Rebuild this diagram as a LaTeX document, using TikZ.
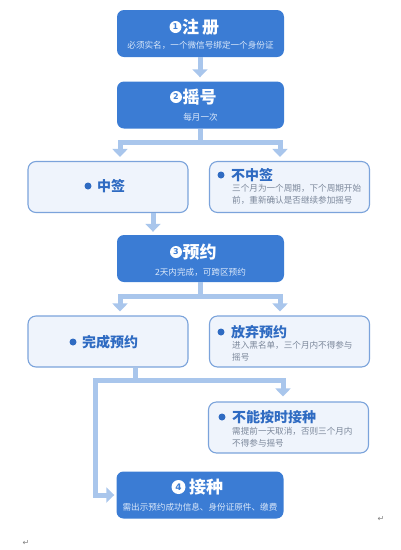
\documentclass[tikz,border=0pt]{standalone}
\usepackage{fontspec}
\newfontfamily\cjk{Noto Sans CJK SC}
\newfontfamily\dejavu{DejaVu Sans}
\usetikzlibrary{arrows.meta}
\definecolor{dblue}{HTML}{3B7CD4}
\definecolor{lfill}{HTML}{EFF4FC}
\definecolor{lborder}{HTML}{7BA3DB}
\definecolor{ltitle}{HTML}{2F6BC2}
\definecolor{lbody}{HTML}{7B879A}
\definecolor{arrc}{HTML}{A9C6EC}
\definecolor{subc}{HTML}{DCE9FA}
\tikzset{
  dbox/.style={draw=none, fill=dblue, rounded corners=7pt, minimum width=167pt, minimum height=47pt, inner sep=0pt},
  lbox/.style={draw=lborder, line width=1.1pt, fill=lfill, rounded corners=8pt, minimum width=160pt, minimum height=51pt, inner sep=0pt},
  dtitle/.style={anchor=west, inner sep=0pt, text=white, font=\cjk\bfseries\fontsize{17}{20}\selectfont},
  dsub/.style={inner sep=0pt, text=subc, font=\cjk\fontsize{8.6}{11}\selectfont},
  numc/.style={circle, fill=white, minimum size=12pt, inner sep=0pt, text=dblue, font=\dejavu\bfseries\fontsize{8}{9}\selectfont},
  ltitle/.style={anchor=west, inner sep=0pt, text=ltitle, font=\cjk\bfseries\fontsize{14}{17}\selectfont},
  lbody/.style={anchor=north west, inner sep=0pt, align=left, text=lbody, font=\cjk\fontsize{8.6}{12}\selectfont},
  dotc/.style={circle, fill=ltitle, minimum size=7pt, inner sep=0pt},
  conn/.style={draw=arrc, line width=5pt, line join=miter},
  tipA/.tip={Triangle[width=15pt,length=8pt]},
  retmark/.style={inner sep=0pt, text=gray, font=\dejavu\fontsize{8}{9}\selectfont}
}
\begin{document}
\begin{tikzpicture}[x=1pt,y=1pt]
\useasboundingbox (0,0) rectangle (400,-550);
% boxes
\node[dbox] (b1) at (200.5,-33.5) {};
\node[dbox] (b2) at (200.5,-105) {};
\node[lbox] (zq) at (108,-187) {};
\node[lbox] (bzq) at (289.5,-187) {};
\node[dbox] (b3) at (200.5,-258.5) {};
\node[lbox] (wc) at (108,-341.5) {};
\node[lbox] (fq) at (289.5,-341.5) {};
\node[lbox] (bn) at (288.5,-427.5) {};
\node[dbox] (b4) at (200,-495) {};
% box 1
\node[numc] (n1) at (175.5,-27) {1};
\node[dtitle] (t1) at (182,-27) {注\hspace{3pt}册};
\node[dsub] (s1) at (200.5,-45) {必须实名，一个微信号绑定一个身份证};
% box 2
\node[numc] (n2) at (176,-97) {2};
\node[dtitle] (t2) at (182.5,-97) {摇号};
\node[dsub] (s2) at (200.5,-117) {每月一次};
% 中签
\node[dotc] (d1) at (88,-186) {};
\node[ltitle] (t3) at (97,-186) {中签};
% 不中签
\node[dotc] (d2) at (221,-175) {};
\node[ltitle] (t4) at (231,-175) {不中签};
\node[lbody] (s4) at (232,-184.5) {三个月为一个周期，下个周期开始\\前，重新确认是否继续参加摇号};
% box 3
\node[numc] (n3) at (176,-252) {3};
\node[dtitle] (t5) at (182.5,-252) {预约};
\node[dsub] (s5) at (200.5,-272) {2天内完成，可跨区预约};
% 完成预约
\node[dotc] (d3) at (73,-342) {};
\node[ltitle] (t6) at (82,-342) {完成预约};
% 放弃预约
\node[dotc] (d4) at (221,-332) {};
\node[ltitle] (t7) at (231,-332) {放弃预约};
\node[lbody] (s7) at (232,-341.5) {进入黑名单，三个月内不得参与\\摇号};
% 不能按时接种
\node[dotc] (d5) at (222,-417) {};
\node[ltitle] (t8) at (232,-417) {不能按时接种};
\node[lbody] (s8) at (232,-427) {需提前一天取消，否则三个月内\\不得参与摇号};
% box 4
\node[numc, minimum size=14pt, font=\dejavu\bfseries\fontsize{9}{10}\selectfont] (n4) at (178.5,-487) {4};
\node[dtitle] (t9) at (189,-487) {接种};
\node[dsub] (s9) at (200,-507) {需出示预约成功信息、身份证原件、缴费};
% return marks
\node[retmark] (r1) at (381,-519) {↵};
\node[retmark] (r2) at (26,-543) {↵};
% connectors
\coordinate (j1) at (200,-142);
\coordinate (l1) at (120,-142);
\coordinate (q1) at (280,-142);
\coordinate (a3) at (153,0);
\coordinate (j2) at (200,-296);
\coordinate (l2) at (120,-296);
\coordinate (q2) at (280,-296);
\coordinate (m3) at (135,-380);
\coordinate (l3) at (95,-380);
\coordinate (q3) at (283,-380);
\draw[conn,-tipA,shorten >=4pt] (b1.south -| j1) -- (b2.north -| j1);
\draw[conn] (b2.south -| j1) -- (j1);
\draw[conn,tipA-tipA,shorten <=4pt,shorten >=4pt] (zq.north -| l1) -- (l1) -- (q1) -- (bzq.north -| q1);
\draw[conn,-tipA,shorten >=3pt] (zq.south -| a3) -- (b3.north -| a3);
\draw[conn] (b3.south -| j2) -- (j2);
\draw[conn,tipA-tipA,shorten <=4pt,shorten >=4pt] (wc.north -| l2) -- (l2) -- (q2) -- (fq.north -| q2);
\draw[conn] (wc.south -| m3) -- (m3);
\draw[conn,tipA-tipA,shorten <=5pt,shorten >=2pt] (bn.north -| q3) -- (q3) -- (l3) -- (l3 |- b4.west) -- (b4.west);
\end{tikzpicture}
\end{document}
